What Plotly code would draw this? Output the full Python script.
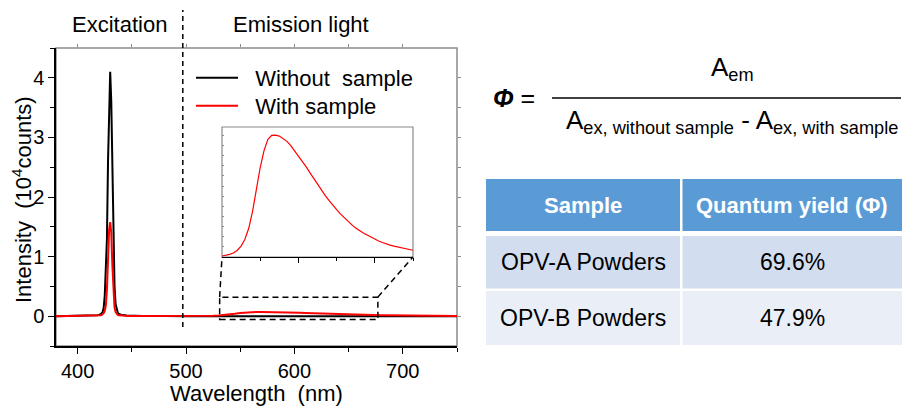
import plotly.graph_objects as go

W, H = 902, 406
FONT = "Liberation Sans, Arial, sans-serif"

# ---------------- data (10^4 counts) ----------------
exc_wavelength = [380, 400, 410, 415, 418, 420, 421, 422, 423, 424, 425, 426, 427, 428, 429,
                  430, 431, 432, 433, 434, 435, 436, 437, 438, 440, 445, 450, 460, 480, 500]
exc_without = [0.0, 0.003, 0.006, 0.01, 0.015, 0.022, 0.03, 0.045, 0.07, 0.14, 0.35, 0.75, 1.3, 2.6, 3.7,
               4.1, 3.6, 2.3, 1.1, 0.5, 0.2, 0.1, 0.06, 0.04, 0.025, 0.012, 0.008, 0.005, 0.002, 0.0]
exc_with = [0.0, 0.002, 0.004, 0.006, 0.009, 0.012, 0.015, 0.02, 0.03, 0.05, 0.09, 0.18, 0.45, 1.0, 1.45,
            1.58, 1.4, 0.85, 0.38, 0.15, 0.07, 0.035, 0.02, 0.014, 0.009, 0.006, 0.004, 0.003, 0.001, 0.0006]

base_wavelength = [500, 750]
base_without = [0.0, 0.0]

em_wavelength = [500, 505, 510, 515, 520, 525, 530, 535, 540, 545, 550, 555, 560, 565, 570, 575,
                 580, 585, 590, 595, 600, 605, 610, 615, 620, 625, 630, 635, 640, 645, 650, 655,
                 660, 665, 670, 675, 680, 685, 690, 695, 700, 705, 710, 715, 720, 725, 730, 735,
                 740, 745, 750]
em_with = [0.0006, 0.0010, 0.0016, 0.0024, 0.0040, 0.0065, 0.0105, 0.0170, 0.0270, 0.0400, 0.0530,
           0.0630, 0.0695, 0.0720, 0.0722, 0.0716, 0.0700, 0.0685, 0.0660, 0.0630, 0.0600, 0.0568,
           0.0535, 0.0500, 0.0465, 0.0430, 0.0397, 0.0365, 0.0335, 0.0305, 0.0280, 0.0255, 0.0232,
           0.0210, 0.0190, 0.0172, 0.0156, 0.0142, 0.0130, 0.0117, 0.0105, 0.0095, 0.0086, 0.0077,
           0.0070, 0.0064, 0.0059, 0.0055, 0.0050, 0.0045, 0.0040]

legend_names = ["Without\u00a0 sample", "With sample"]
x_ticks = [400, 500, 600, 700]
y_ticks = [0, 1, 2, 3, 4]
region_labels = ["Excitation", "Emission light"]

table_header = ["Sample", "Quantum yield (\u03a6)"]
table_samples = ["OPV-A Powders", "OPV-B Powders"]
table_yields = ["69.6%", "47.9%"]

# ---------------- layout geometry ----------------
X_RANGE = [380, 750]
Y_RANGE = [-0.5, 4.5]
MAIN_X = [56 / W, 457 / W]
MAIN_Y = [1 - 346 / H, 1 - 48 / H]
INSET_X = [222 / W, 413 / W]
INSET_Y = [1 - 257 / H, 1 - 127 / H]
INSET_XR = [500, 750]
INSET_YR = [0, 0.077]
ZOOM_BOX = dict(x0=531, x1=677, y0=-0.055, y1=0.32)
DIVIDER_X = 497
GRAY = "#8a8a8a"


def xp(v):
    return MAIN_X[0] + (v - X_RANGE[0]) / (X_RANGE[1] - X_RANGE[0]) * (MAIN_X[1] - MAIN_X[0])


def yp(v):
    return MAIN_Y[0] + (v - Y_RANGE[0]) / (Y_RANGE[1] - Y_RANGE[0]) * (MAIN_Y[1] - MAIN_Y[0])


fig = go.Figure()

fig.add_trace(go.Scatter(x=exc_wavelength + base_wavelength, y=exc_without + base_without,
                         mode="lines", name="\u00a0\u00a0" + legend_names[0], legend="legend",
                         line=dict(color="black", width=2), xaxis="x", yaxis="y"))
fig.add_trace(go.Scatter(x=exc_wavelength + em_wavelength, y=exc_with + em_with,
                         mode="lines", name="\u00a0\u00a0" + legend_names[1], legend="legend2",
                         line=dict(color="#FF0000", width=2), xaxis="x", yaxis="y"))
fig.add_trace(go.Scatter(x=em_wavelength, y=em_with, mode="lines", showlegend=False,
                         line=dict(color="#FF0000", width=1.2), xaxis="x2", yaxis="y2"))
fig.add_trace(go.Scatter(x=[None], y=[None], mode="lines", showlegend=False,
                         hoverinfo="skip", xaxis="x3", yaxis="y3"))

axis_common = dict(showgrid=False, zeroline=False)
leg_common = dict(xanchor="left", yanchor="middle", bgcolor="rgba(0,0,0,0)",
                  font=dict(size=22, family=FONT, color="black"), itemwidth=42)

fig.update_layout(
    width=W, height=H, margin=dict(l=0, r=0, t=0, b=0),
    paper_bgcolor="white", plot_bgcolor="rgba(0,0,0,0)",
    font=dict(family=FONT, size=20, color="black"),
    showlegend=True,
    legend=dict(x=191 / W, y=1 - 78 / H, **leg_common),
    legend2=dict(x=191 / W, y=1 - 106 / H, **leg_common),
    xaxis=dict(domain=MAIN_X, range=X_RANGE, anchor="y", tickvals=x_ticks,
               ticks="outside", ticklen=6, tickwidth=1, tickcolor="black",
               showline=True, linecolor="black", linewidth=1.5,
               minor=dict(tickvals=[450, 550, 650, 750], ticks="outside", ticklen=4, tickcolor="black"),
               tickfont=dict(size=20), **axis_common),
    yaxis=dict(domain=MAIN_Y, range=Y_RANGE, anchor="x", tickvals=y_ticks,
               ticks="outside", ticklen=6, tickwidth=1, tickcolor="black",
               showline=True, linecolor="black", linewidth=1.5,
               minor=dict(tickvals=[-0.5, 0.5, 1.5, 2.5, 3.5, 4.5], ticks="outside", ticklen=4, tickcolor="black"),
               tickfont=dict(size=20), **axis_common),
    xaxis3=dict(overlaying="x", side="top", anchor="y", range=X_RANGE, tickvals=[400, 450, 500, 550, 600, 650, 700],
                ticks="outside", ticklen=3, tickcolor=GRAY, showticklabels=False, showline=False, **axis_common),
    yaxis3=dict(overlaying="y", side="right", anchor="x", range=Y_RANGE, tickvals=[0, 0.5, 1, 1.5, 2, 2.5, 3, 3.5, 4],
                ticks="outside", ticklen=3, tickcolor=GRAY, showticklabels=False, showline=False, **axis_common),
    xaxis2=dict(domain=INSET_X, range=INSET_XR, anchor="y2", tickvals=[600, 700],
                ticks="outside", ticklen=5, tickcolor="black", showticklabels=False,
                showline=True, linecolor="black", linewidth=1.2,
                minor=dict(tickvals=[550, 650, 750], ticks="outside", ticklen=3, tickcolor="black"),
                **axis_common),
    yaxis2=dict(domain=INSET_Y, range=INSET_YR, anchor="x2", dtick=0.006,
                ticks="inside", ticklen=2, tickcolor=GRAY, showticklabels=False,
                showline=False, **axis_common),
)

shapes = []
ann = []
# main frame (gray) and inset frame
shapes.append(dict(type="rect", xref="paper", yref="paper", x0=MAIN_X[0], x1=MAIN_X[1],
                   y0=MAIN_Y[0], y1=MAIN_Y[1], line=dict(color=GRAY, width=1.5), layer="below"))
shapes.append(dict(type="rect", xref="paper", yref="paper", x0=INSET_X[0], x1=INSET_X[1],
                   y0=INSET_Y[0], y1=INSET_Y[1], line=dict(color=GRAY, width=1.2), layer="below"))
# zoom box
shapes.append(dict(type="rect", xref="x", yref="y", line=dict(color="black", width=1.5, dash="6px,4px"),
                   **ZOOM_BOX))
# connectors
shapes.append(dict(type="line", xref="paper", yref="paper", x0=xp(ZOOM_BOX["x0"]), y0=yp(ZOOM_BOX["y1"]),
                   x1=INSET_X[0], y1=INSET_Y[0], line=dict(color="black", width=1.5, dash="6px,4px")))
shapes.append(dict(type="line", xref="paper", yref="paper", x0=xp(ZOOM_BOX["x1"]), y0=yp(ZOOM_BOX["y1"]),
                   x1=INSET_X[1], y1=INSET_Y[0], line=dict(color="black", width=1.5, dash="6px,4px")))
# divider
shapes.append(dict(type="line", xref="paper", yref="paper", x0=xp(DIVIDER_X), x1=xp(DIVIDER_X),
                   y0=1 - 327 / H, y1=1 - 10 / H, line=dict(color="black", width=1.5, dash="5px,4px")))
# fraction bar
shapes.append(dict(type="line", xref="paper", yref="paper", x0=552 / W, x1=901 / W,
                   y0=1 - 98 / H, y1=1 - 98 / H, line=dict(color="black", width=1.5)))

# ---------------- table (cells built from the table lists) ----------------
col_edges = [(486, 680), (682.5, 902)]
row_edges = [(179, 231), (236, 288.5), (291, 345)]
row_fills = ["#5B9BD5", "#D2DEEF", "#EAEFF7"]
table_rows = [table_header] + [[s, q] for s, q in zip(table_samples, table_yields)]
for r, row in enumerate(table_rows):
    top, bot = row_edges[r]
    for c, txt in enumerate(row):
        left, right = col_edges[c]
        shapes.append(dict(type="rect", xref="paper", yref="paper", x0=left / W, x1=right / W,
                           y0=1 - bot / H, y1=1 - top / H, fillcolor=row_fills[r],
                           line=dict(width=0), layer="below"))
        if r == 0:
            label, fcol, fsize = "<b>%s</b>" % txt, "white", 22
        else:
            label, fcol, fsize = txt, "black", 23
        ann.append(dict(text=label, x=(left + right) / 2 / W, y=1 - (top + bot) / 2 / H,
                        xref="paper", yref="paper", showarrow=False,
                        font=dict(size=fsize, color=fcol, family=FONT),
                        xanchor="center", yanchor="middle"))

fig.update_layout(shapes=shapes)

ann.append(dict(text=region_labels[0], x=120 / W, y=1 - 25 / H, xref="paper", yref="paper",
                showarrow=False, font=dict(size=22), xanchor="center", yanchor="middle"))
ann.append(dict(text=region_labels[1], x=301 / W, y=1 - 25 / H, xref="paper", yref="paper",
                showarrow=False, font=dict(size=22), xanchor="center", yanchor="middle"))
ann.append(dict(text="Wavelength\u00a0 (nm)", x=(MAIN_X[0] + MAIN_X[1]) / 2, y=1 - 393 / H,
                xref="paper", yref="paper", showarrow=False, font=dict(size=22),
                xanchor="center", yanchor="middle"))
ann.append(dict(text="Intensity\u00a0 (10<sup>4</sup>counts)", x=22 / W, y=1 - 200 / H, textangle=-90,
                xref="paper", yref="paper", showarrow=False, font=dict(size=22),
                xanchor="center", yanchor="middle"))
ann.append(dict(text="<b><i>\u03a6</i></b> =", x=491 / W, y=1 - 98 / H, xref="paper", yref="paper",
                showarrow=False, font=dict(size=25), xanchor="left", yanchor="middle"))
ann.append(dict(text="A<sub>em</sub>", x=732 / W, y=1 - 68 / H, xref="paper", yref="paper",
                showarrow=False, font=dict(size=26), xanchor="center", yanchor="middle"))
ann.append(dict(text="A<sub>ex, without sample</sub> - A<sub>ex, with sample</sub>", x=732 / W, y=1 - 122 / H,
                xref="paper", yref="paper", showarrow=False, font=dict(size=26),
                xanchor="center", yanchor="middle"))
fig.update_layout(annotations=ann)

fig.write_html("out.html", config={"displayModeBar": False},
               post_script="document.body.style.margin='0';document.body.style.overflow='hidden';")
